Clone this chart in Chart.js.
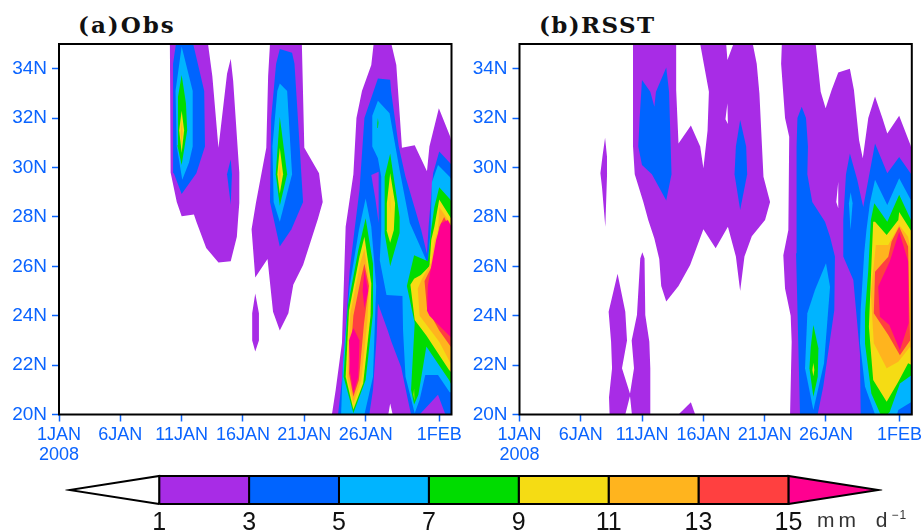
<!DOCTYPE html>
<html lang="en">
<head>
<meta charset="UTF-8">
<title>Obs and RSST rainfall</title>
<script src="https://cdn.jsdelivr.net/npm/chart.js"></script>
<style>
  body { margin: 0; background: #fff; width: 922px; height: 532px; overflow: hidden; position: relative; }
  canvas { position: absolute; }
  .title { position: absolute; top: 10px; font: bold 23px/30px "DejaVu Serif"; letter-spacing: 2px; color: #111; }
  #unit { position: absolute; left: 817px; top: 507px; font: 21px/26px "Liberation Sans"; letter-spacing: 4px; word-spacing: 6px; color: #333; }
  #unit sup { font-size: 12px; line-height: 0; letter-spacing: 1px; }
</style>
</head>
<body>
<div class="title" style="left:78px">(a)Obs</div>
<div class="title" style="left:539px;letter-spacing:1.4px">(b)RSST</div>
<canvas id="obsChart" width="470" height="470" style="left:0;top:0"></canvas>
<canvas id="rsstChart" width="482" height="470" style="left:460px;top:0"></canvas>
<canvas id="barChart" width="922" height="66" style="left:0;top:466px"></canvas>
<div id="unit">mm d<sup>−1</sup></div>

<script>
// axis ticks
const dayTicks = [0, 5, 10, 15, 20, 25, 31];
const dayLabels = [['1JAN', '2008'], '6JAN', '11JAN', '16JAN', '21JAN', '26JAN', '1FEB'];
const latTicks = [20, 22, 24, 26, 28, 30, 32, 34];

// colour bar
const levels = [1, 3, 5, 7, 9, 11, 13, 15];
const levelColors = ['#A82CE6', '#0064FF', '#00B4FF', '#00DC00', '#F5DC14', '#FFB41E', '#FF4040', '#FF0090'];
const [purple, blue, cyan, green, yellow, orange, red, pink] = levelColors;

// contour outlines as [day since 1 Jan, latitude], panel a
const obsLevel1 = [
  [[9.04,35],[9.1,29.8],[9.6,28.6],[10,28.03],[11,28.1],[11.2,27.8],[12,26.74],[13,26.15],[14,26.2],[14.5,27.2],[14.6,27.9],[14.7,28.56],[14.7,29.8],[14.2,33.5],[14,34.4],[13.7,33.8],[13,30.8],[12.5,33.7],[12.15,35]],
  [[17.2,35],[19.8,35],[20,30.8],[21.2,29.77],[21.5,28.6],[21.1,27.9],[19.9,26.05],[19.1,25.25],[18.7,24.1],[18,23.4],[17.45,24.16],[17,26.3],[16,25.55],[15.7,27.5],[16.05,28.55],[16.9,30.8],[17.05,33.7]],
  [[16,24.9],[16.3,24.1],[16.3,23],[16,22.55],[15.75,23],[15.75,24.1]],
  [[25.65,35],[27.1,35],[27.5,34.15],[27.96,30.8],[29,30.9],[30,29.85],[30.2,30.85],[30.97,32.4],[31.9,31.25],[32,31],[32,20],[27.2,20],[27,20.45],[26.85,20],[22.25,20],[22.56,21],[23.07,22.9],[23.37,27.6],[24,29.73],[24.25,32],[24.7,33.1],[25.46,34.15]]
];
const obsLevel3 = [
  [[9.53,35],[10.94,35],[11.84,33.1],[11.9,30.85],[11.2,29.77],[10,28.93],[9.36,29.77],[9.3,34.2]],
  [[14,30.33],[14.1,29.73],[14,28.5],[13.7,29.73]],
  [[18,34.8],[19,34.65],[19.2,34.2],[19.9,28.6],[18.95,27.5],[18,26.8],[17.7,27.47],[17.2,28.6],[17.3,32],[17.7,34.2]],
  [[26,33.6],[27,33.55],[27.08,33.07],[27.7,30.85],[28.25,29.63],[29.53,27.47],[30,26.5],[30.13,27.6],[30.5,29.77],[31,30.65],[31.9,30.17],[32,30.1],[32,20],[31.5,20],[30.9,20.8],[29.4,20],[28.7,20],[28.4,20.7],[27.9,21.9],[27.1,22.95],[26.8,23.4],[26,24.5],[25.9,23.15],[25.6,21],[25.3,20],[22.75,20],[23.07,21.4],[23.7,25.85],[24.1,27.5],[24.5,29.1],[24.9,32]]
];
const obsGap = [
  [[25.46,29.7],[26.06,29.83],[26.06,27.75],[25.8,28.7]]
];
const obsLevel5 = [
  [[10,34.9],[10.9,33.1],[10.9,30.85],[10.6,30.2],[10.05,29.5],[9.6,30.85],[9.5,33.1]],
  [[18,33.4],[18.6,33.1],[19,29.73],[18,27.8],[17.5,28.6],[17.4,30.85],[17.8,33.1]],
  [[25,28.75],[25.46,27.6],[25.86,25.2],[25.6,21.53],[24.9,20],[23,20],[23.15,22.1],[23.7,25.2],[24.45,27.47]],
  [[26,32.7],[26.95,32.2],[27.77,29.9],[28.6,27.75],[30.07,26.1],[30.3,27.5],[30.4,29.4],[30.9,30.1],[31.85,29.63],[32,29.5],[32,20.9],[31.85,20.9],[30.9,21.6],[29.86,21.6],[29.4,20.6],[29,20.05],[28.25,21.53],[28.05,23.4],[28,24.8],[26.7,24.84],[26.15,26.25],[26.27,27.47],[26.27,29.63],[26,30.37],[25.54,30.85],[25.54,32.1]]
];
const obsLevel7 = [
  [[10,33.75],[10.35,32.6],[10.45,31.5],[10,30.1],[9.65,30.9],[9.7,32.85]],
  [[18,32.05],[18.6,29.73],[18,28.45],[17.67,29.73]],
  [[25,27.95],[25.6,26.1],[25.6,24.1],[25,21.4],[24,20.05],[23.2,21.53],[23.55,24.4],[24.4,26.65]],
  [[27,30.57],[27.77,28],[27.77,27.35],[27,26],[26.55,27.33],[26.55,29.63]],
  [[26,32],[26.05,31.8],[26,31.6],[25.95,31.8]],
  [[28.95,26.45],[30.07,26.2],[30.35,27.5],[30.6,28.4],[31,29.2],[31.9,28.7],[32,28.6],[32,21.2],[31.8,21.4],[29.95,22.75],[29.3,20.8],[28.95,20.4],[28.7,21],[29,23.7],[28.36,25.2]]
];
const obsLevel9 = [
  [[10,32.3],[10.2,31.5],[10,30.6],[9.8,31.5]],
  [[18,30.8],[18.27,29.73],[18,28.95],[17.8,29.73]],
  [[24.9,27.2],[25.46,25.3],[25.4,24],[24.8,21.27],[24,20.2],[23.37,21.53],[23.64,24.2],[24.5,26.4]],
  [[27,29.77],[27.4,28.55],[27.3,27.47],[27,26.95],[26.7,27.47],[26.73,28.55]],
  [[28.95,21.05],[29,20.8],[28.95,20.55],[28.9,20.8]],
  [[28.95,25.5],[29.5,25.65],[30.2,26],[30.35,27.07],[30.6,27.6],[31,28.7],[31.9,28],[32,27.9],[32,21.7],[31.8,21.8],[29.95,23.2],[29,23.83],[28.65,25.25]]
];
const obsLevel11 = [
  [[10,31.9],[10.08,31.4],[10,30.9],[9.92,31.4]],
  [[18,30.1],[18.08,29.75],[18,29.4],[17.92,29.75]],
  [[24.9,26.7],[25.3,25.3],[25.15,23.83],[24.65,21.4],[24,20.45],[23.5,21.53],[23.75,24.1],[24.55,26.1]],
  [[27,28.9],[27.05,28.5],[27,28.15],[26.95,28.5]],
  [[29.25,25.1],[29.6,25.5],[30.35,26.15],[30.6,27],[30.9,27.47],[31,28.4],[31.9,27.75],[32,27.7],[32,22.05],[31.9,22.1],[31,22.95],[29.4,24]]
];
const obsLevel13 = [
  [[24.9,26.1],[25.27,25.2],[24.87,23.7],[24.45,21.4],[24,20.72],[23.64,21.67],[24,24],[24.65,25.6]],
  [[29.8,25.4],[30.5,26.1],[30.8,27],[31,27.6],[31.4,28],[32,27.4],[32,22.7],[31,23.4],[30,24.3]]
];
const obsLevel15 = [
  [[24.9,25.85],[25.2,25],[24.9,24.3],[24.75,25]],
  [[23.64,23],[24,23.5],[24.5,23],[24.4,21.53],[24,20.85],[23.7,21.8]],
  [[30.07,25.2],[30.35,26],[30.75,27.07],[31.15,27.74],[31.7,27.87],[32,27.6],[32,23.1],[30.2,24],[30,24.2]]
];

// contour outlines, panel b
const rsstLevel1 = [
  [[9.26,35],[9.26,30.85],[9.4,29.73],[10.1,28.6],[10.5,27.87],[11,27.13],[11.4,26.3],[11.56,25.2],[11.97,24.57],[12.97,25.2],[13.92,26.05],[15,27.5],[16,26.73],[17,27.6],[17.65,26.4],[18,25],[18.35,26.4],[18.95,27.22],[20.03,27.87],[20.44,28.6],[19.9,29.63],[19.57,33],[19.35,34.2],[19.03,35],[17.45,35],[16.96,34.35],[16.86,35],[14.74,35],[15.07,34.1],[15.45,33.07],[15.34,31.5],[15,29.97],[14.74,30.85],[13.98,31.7],[12.97,30.97],[12.78,33.14],[12.78,35]],
  [[6.98,31.2],[7.14,30.43],[7.14,29.7],[7,27.6],[6.73,29.2],[6.6,29.77],[6.78,30.5]],
  [[8,25.7],[8.63,24.16],[8.77,23],[8.36,21.87],[9.04,20.8],[8.63,20],[7.35,20],[7.3,20.7],[7.55,21.87],[7.47,22.95],[7.27,24.16]],
  [[10.02,26.57],[10.2,26.32],[10.26,24.03],[10.59,22.95],[10.67,21.87],[10.67,20],[9.17,20],[9,20.8],[9.34,21.87],[9.15,23],[9.58,24.03],[9.85,26.32]],
  [[12.97,20],[13.98,20.5],[14.33,20]],
  [[21.4,35],[21.34,34.2],[21.66,32],[22,31.25],[21.93,27.47],[21.52,26.45],[21.66,25.1],[22.12,24],[22.2,22.95],[22.07,20],[32,20],[32,30.7],[31.9,30.9],[30.97,32.1],[30,31.38],[29.6,32],[29,32.87],[28.45,32],[28,30.37],[27.7,31.1],[27.28,33.14],[26.95,34],[26,33.85],[25.46,33.14],[24.97,32.4],[24.57,33.07],[24.16,35]]
];
const rsstGaps = [
  [[16.96,32.6],[17,31.76],[16.8,31.95]],
  [[26,29.42],[26,28.35],[25.84,28.6]]
];
const rsstLevel3 = [
  [[9.99,33.54],[10.67,33.07],[11,32.46],[11.13,33.07],[11.97,34.05],[12.2,33.07],[12.4,29.73],[11.97,28.66],[10.8,29.73],[9.99,30.1],[9.69,30.85],[9.8,32]],
  [[18,31.92],[18.49,30.85],[18.57,29.73],[18,28.28],[17.54,29.73],[17.65,30.85]],
  [[23.02,32.46],[23.37,32],[23.53,30.85],[23.48,29.73],[23.88,28.6],[24.92,27.8],[25.33,27.2],[25.73,26.4],[25.68,24.23],[24.78,21.13],[24.32,20],[22.88,20],[22.56,26.53],[22.6,27.87],[22.6,30.85],[22.67,32]],
  [[26.95,30.57],[27.55,29.5],[27.9,28.7],[28.04,28.4],[29,30.97],[30,29.77],[30.97,30.43],[31.9,29.77],[32,29.7],[32,20],[27.83,20],[27.77,22.47],[27.23,25.45],[26.41,26.4],[26.41,27.87],[26.63,29.73]]
];
const rsstLevel5 = [
  [[25,26.12],[25.33,25.17],[24.84,22.07],[23.97,20.18],[23.29,21.87],[23.48,24.1],[24.1,25.04]],
  [[27.01,29],[27.17,28.55],[27,27.47],[26.87,28.55]],
  [[29,29.5],[30,28.48],[30.97,29.56],[31.9,28.7],[32,28.65],[32,20.52],[30.9,20.18],[30.8,20],[29,20],[28.18,21.13],[27.77,22.9],[27.83,24.23],[28.12,26.54],[28.3,27.47],[28.58,28.55]]
];
const rsstLevel7 = [
  [[23.97,23.62],[24.38,22.68],[24.33,21.53],[23.97,20.72],[23.65,21.87],[23.76,22.74]],
  [[28.94,28.55],[30,27.8],[30.97,28.9],[32,27.8],[32,21.6],[31.03,21.26],[30.2,20.1],[30,20],[29.45,20],[28.7,20.85],[28.18,22.88],[28.18,24.1],[28.45,25.85],[28.66,27.87]]
];
const rsstLevel9 = [
  [[23.97,22.1],[24.05,21.8],[23.97,21.55],[23.89,21.8]],
  [[28.85,27.8],[29,27.8],[29.95,27.27],[30.9,27.87],[30.97,28.2],[31.9,27.47],[32,27.4],[32,22],[31.7,22.07],[30.9,21.33],[29.95,20.52],[28.85,21.4],[28.5,23.55],[28.72,26.25]]
];
const rsstLevel11 = [
  [[29.07,26.86],[30.08,26.86],[30.97,27.67],[31.7,27.2],[32,26.4],[32,22.6],[31.86,22.74],[30.9,22.14],[29.95,21.87],[28.9,22.88],[28.66,24.9]]
];
const rsstLevel13 = [
  [[30.08,26.39],[29,25.78],[28.9,24.1],[30.08,23.22],[31.03,22.4],[31.86,23],[31.7,26.8],[30.97,27.6],[30.35,27]]
];
const rsstLevel15 = [
  [[30.97,27.4],[31.7,26.2],[31.75,23.7],[31.03,22.6],[30.16,23.62],[29.4,23.96],[29.26,25.18],[30.2,26.19]]
];

const tickBlue = '#0A64FF';
const obsLayers = [
  [purple, obsLevel1], [blue, obsLevel3], [purple, obsGap], [cyan, obsLevel5], [green, obsLevel7],
  [yellow, obsLevel9], [orange, obsLevel11], [red, obsLevel13], [pink, obsLevel15]
];
const rsstLayers = [
  [purple, rsstLevel1], ['#FFFFFF', rsstGaps], [blue, rsstLevel3], [cyan, rsstLevel5], [green, rsstLevel7],
  [yellow, rsstLevel9], [orange, rsstLevel11], [red, rsstLevel13], [pink, rsstLevel15]
];

function shape(poly, color, extra) {
  return Object.assign({
    data: poly.map(p => ({ x: p[0], y: p[1] })),
    showLine: true,
    fill: 'shape',
    backgroundColor: color,
    borderWidth: 0,
    pointRadius: 0,
    tension: 0
  }, extra);
}

// black frame on all four sides of the plot
const framePlugin = {
  id: 'frame',
  afterDatasetsDraw(chart) {
    const a = chart.chartArea;
    const ctx = chart.ctx;
    ctx.save();
    ctx.strokeStyle = '#000';
    ctx.lineWidth = 2;
    ctx.strokeRect(a.left, a.top, a.right - a.left, a.bottom - a.top);
    ctx.restore();
  }
};

function drawPanel(id, layers, leftWidth, rightPad) {
  const datasets = [];
  layers.forEach(([color, polys]) => polys.forEach(p => datasets.push(shape(p, color))));
  datasets.forEach((d, i) => { d.order = datasets.length - i; });

  new Chart(document.getElementById(id), {
    type: 'scatter',
    data: { datasets },
    plugins: [framePlugin],
    options: {
      responsive: false,
      animation: false,
      events: [],
      layout: { padding: { top: 44, right: rightPad, left: 0, bottom: 0 } },
      plugins: { legend: { display: false }, tooltip: { enabled: false } },
      scales: {
        x: {
          type: 'linear',
          min: 0,
          max: 32,
          afterBuildTicks: s => { s.ticks = dayTicks.map(value => ({ value })); },
          afterFit: s => { s.height = 55.5; },
          grid: { drawOnChartArea: false, color: tickBlue, tickLength: 7, tickWidth: 1.5 },
          border: { display: false },
          ticks: {
            autoSkip: false,
            maxRotation: 0,
            padding: 3,
            color: tickBlue,
            font: { family: 'Liberation Sans', size: 18, lineHeight: 1.12 },
            callback: v => dayLabels[dayTicks.indexOf(v)]
          }
        },
        y: {
          min: 20,
          max: 35,
          afterBuildTicks: s => { s.ticks = latTicks.map(value => ({ value })); },
          afterFit: s => { s.width = leftWidth; },
          grid: { drawOnChartArea: false, color: tickBlue, tickLength: 7, tickWidth: 1.5 },
          border: { display: false },
          ticks: {
            padding: 5,
            color: tickBlue,
            font: { family: 'Liberation Sans', size: 19 },
            callback: v => v + 'N'
          }
        }
      }
    }
  });
}

drawPanel('obsChart', obsLayers, 59, 18.5);
drawPanel('rsstChart', rsstLayers, 59.5, 30.2);

// colour bar: one box per interval, a triangle at each end
const barDatasets = [];
const barLine = { borderWidth: 2, borderColor: '#000', clip: 4 };
barDatasets.push(shape([[1, 0], [-1, 0.5], [1, 1], [1, 0]], '#FFFFFF', barLine));
for (let i = 0; i < levels.length - 1; i++) {
  const lo = levels[i], hi = levels[i + 1];
  barDatasets.push(shape([[lo, 0], [hi, 0], [hi, 1], [lo, 1], [lo, 0]], levelColors[i], barLine));
}
const lastLevel = levels[levels.length - 1];
barDatasets.push(shape([[lastLevel, 0], [lastLevel + 2, 0.5], [lastLevel, 1], [lastLevel, 0]], pink, barLine));

new Chart(document.getElementById('barChart'), {
  type: 'scatter',
  data: { datasets: barDatasets },
  options: {
    responsive: false,
    animation: false,
    events: [],
    layout: { padding: { top: 10, left: 69.3, right: 43.7, bottom: 0 } },
    plugins: { legend: { display: false }, tooltip: { enabled: false } },
    scales: {
      x: {
        type: 'linear',
        min: -1,
        max: 17,
        afterBuildTicks: s => { s.ticks = levels.map(value => ({ value })); },
        afterFit: s => { s.height = 28; },
        grid: { display: false, drawTicks: false },
        border: { display: false },
        ticks: {
          autoSkip: false,
          maxRotation: 0,
          padding: 4,
          color: '#111',
          font: { family: 'Liberation Sans', size: 25 },
          callback: v => String(v)
        }
      },
      y: { display: false, min: 0, max: 1 }
    }
  }
});
</script>
</body>
</html>
